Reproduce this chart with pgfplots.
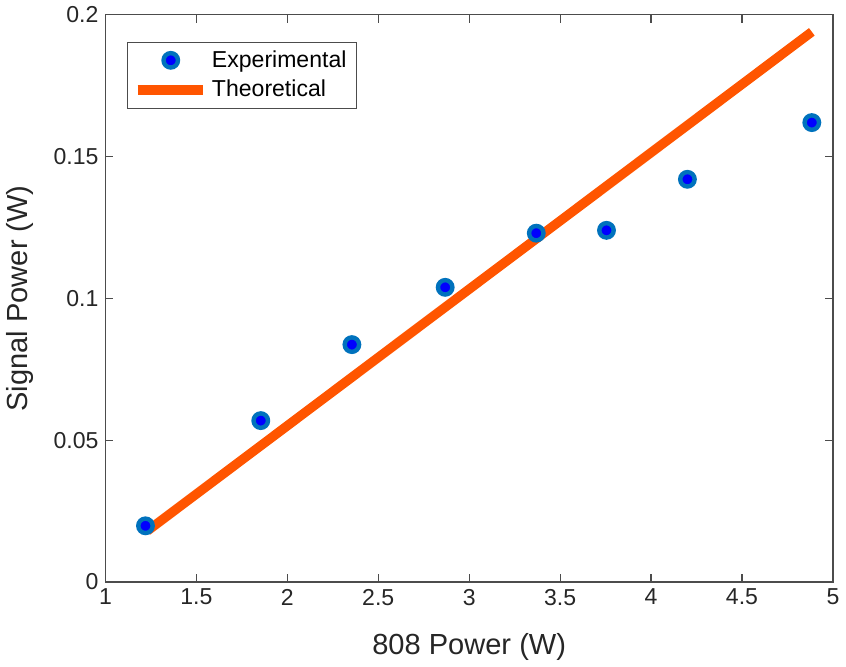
\documentclass[border=0pt]{standalone}
\usepackage{fontspec}
\setmainfont{Liberation Sans}
\usepackage{pgfplots}
\pgfplotsset{compat=1.18}
\definecolor{expfill}{RGB}{0,0,255}
\definecolor{expedge}{RGB}{0,114,189}
\definecolor{theo}{RGB}{255,85,0}
\pgfplotsset{
  mlline/.style={legend image code/.code={\draw[##1] (0cm,0cm) -- (1.15cm,0cm);}},
  mlmark/.style={legend image code/.code={\draw[##1] plot coordinates {(0.58cm,0cm)};}},
}
\begin{document}
\begin{tikzpicture}
\begin{axis}[
  scale only axis,
  width=363pt, height=283pt,
  xmin=1, xmax=5, ymin=0, ymax=0.2,
  xtick={1,1.5,...,5},
  ytick={0,0.05,0.1,0.15,0.2},
  yticklabels={0,0.05,0.1,0.15,0.2},
  xticklabels={1,1.5,2,2.5,3,3.5,4,4.5,5},
  tick align=inside,
  tick pos=both,
  major tick length=4pt,
  axis line style={draw=black!70, line width=0.6pt},
  tick style={black!70, line width=0.6pt},
  tick label style={font=\fontsize{11.5}{13}\selectfont, text=black!85},
  label style={font=\fontsize{14.5}{16}\selectfont, text=black!85},
  xlabel={808 Power (W)},
  ylabel={Signal Power (W)},
  xlabel style={yshift=-7pt},
  ylabel style={yshift=3pt},
  legend style={at={(0.029,0.952)}, anchor=north west, draw=black!70,
    font=\fontsize{11.5}{13}\selectfont, row sep=1pt, inner xsep=3pt},
  legend cell align=left,
]
\addplot[only marks, mark=*, mark size=3.6pt, draw=expedge, fill=expfill,
  mark options={line width=2.2pt}, mlmark]
  coordinates {
  (1.22,0.0198) (1.854,0.0569) (2.355,0.0837) (2.868,0.1039)
  (3.369,0.1230) (3.755,0.1240) (4.200,0.1420) (4.884,0.1620)
};
\addlegendentry{Experimental}
\addplot[theo, line width=4.7pt, mlline] coordinates {(1.23,0.018) (4.884,0.194)};
\addlegendentry{Theoretical}
\end{axis}
\end{tikzpicture}
\end{document}
